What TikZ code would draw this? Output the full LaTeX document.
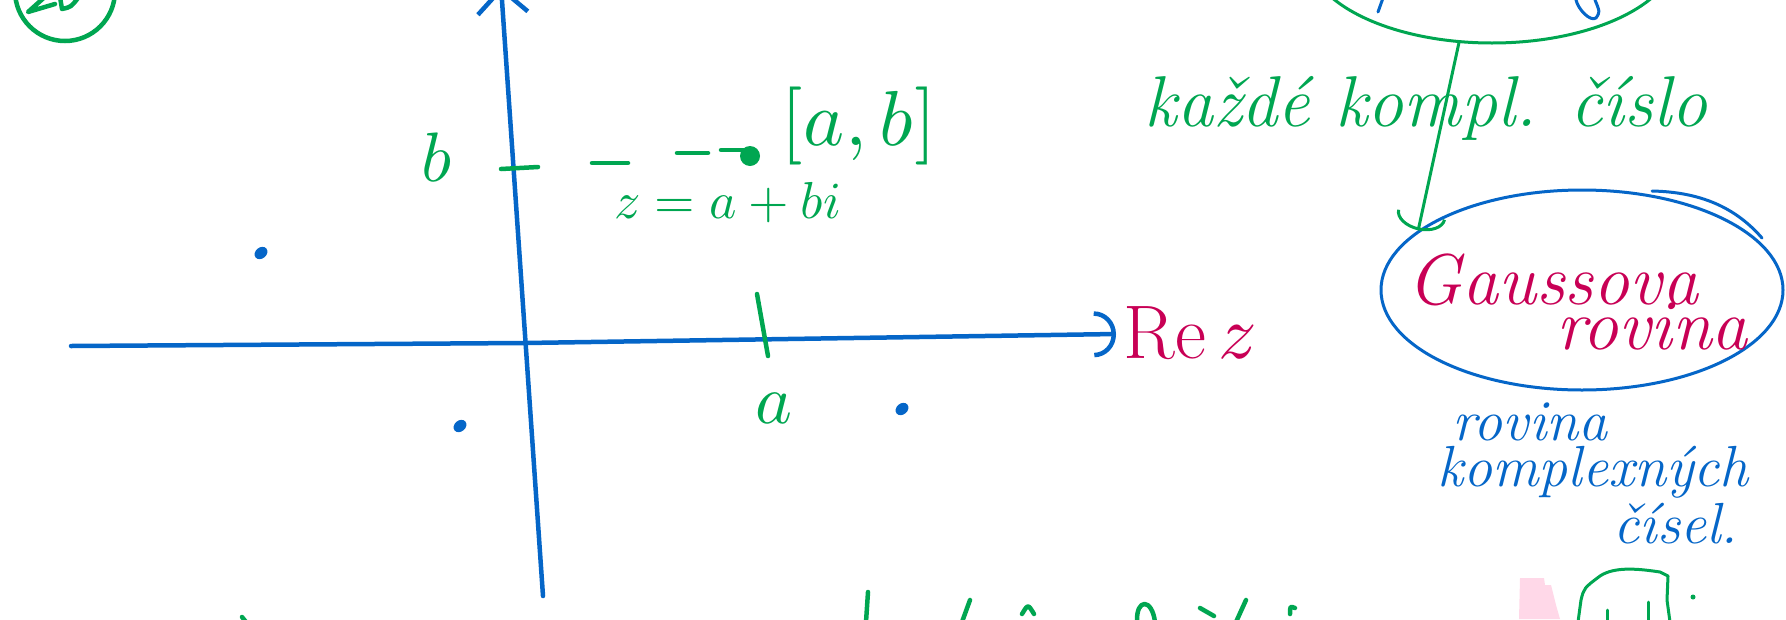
\documentclass[tikz,border=0pt]{standalone}
\usepackage{fontspec}
\usepackage{unicode-math}
\setmathfont{Latin Modern Math}
\usetikzlibrary{arrows.meta,positioning,shapes.geometric}
\definecolor{penblue}{RGB}{5,102,200}
\definecolor{pengreen}{RGB}{0,166,81}
\definecolor{penred}{RGB}{200,0,85}
\definecolor{hilite}{RGB}{255,216,232}

\begin{document}
\begin{tikzpicture}[x=1pt,y=-1pt,
  ink/.style={line width=4.5pt,line cap=round,line join=round},
  thin ink/.style={line width=3pt,line cap=round,line join=round},
  axis/.style={ink,penblue},
  tick/.style={ink,pengreen},
  dot/.style={ellipse,fill=penblue,inner sep=0pt,minimum width=14pt,minimum height=11pt,rotate=40},
  lbl/.style={text=pengreen,font=\fontsize{70}{70}\selectfont,inner sep=0pt},
  word/.style={inner sep=0pt,font=\fontsize{72}{80}\selectfont\itshape},
  note/.style={word,text=penblue,font=\fontsize{58}{60}\selectfont\itshape},
  loop/.style={ellipse,draw,thin ink,inner sep=0pt}]
\useasboundingbox (0,0) rectangle (1786,619);
\clip (0,0) rectangle (1786,619);

% axes
\coordinate (xl) at (71,346);
\coordinate (xr) at (1116,334);
\coordinate (yb) at (543,596);
\coordinate (yt) at (501,-14);
\draw[axis,-{Arc Barb[length=22pt,width=46pt]}] (xl) -- (525,343) -- (xr);
\draw[axis,-{Straight Barb[length=24pt,width=50pt]}] (yb) -- (yt);

% ticks, point z and its labels
\draw[tick] (501,169) -- (538,167);
\draw[tick] (757,294) -- (768,356);
\foreach \xa/\xb/\ya in {592/628/163,677/708/153,721/748/150}
  \draw[tick] (\xa,\ya) -- (\xb,\ya);
\node[circle,fill=pengreen,inner sep=0pt,minimum size=20pt] (z) at (750,156) {};
\node[lbl] (lb) at (437,158) {$b$};
\node[lbl] (la) at (774,408) {$a$};
\node[lbl,font=\fontsize{78}{78}\selectfont] (ab) at (859,126) {$[a,b]$};
\node[lbl,font=\fontsize{52}{52}\selectfont] (zab) at (728,203) {$z=a+bi$};

% other points
\node[dot] (p1) at (261,253) {};
\node[dot] (p2) at (460,426) {};
\node[dot] (p3) at (902,409) {};

\node[text=penred,inner sep=0pt,font=\fontsize{76}{76}\selectfont] (rez) at (1190,333) {$\mathrm{Re}\,z$};

% top left number (cut off)
\node[circle,draw=pengreen,ink,minimum size=100pt] (num) at (65,-9) {};
\draw[tick] (47,-5) -- (28,12) -- (55,4);
\draw[tick] (60,-3) -- (62,9) .. controls (71,7) .. (78,-2);

% right column
\node[loop,draw=pengreen,minimum width=370pt,minimum height=182pt] (cplx) at (1492,-48) {};
\draw[thin ink,penblue] (1383,-2) -- (1378,12);
\draw[thin ink,penblue] (1576,0) .. controls (1578,9) and (1590,22) .. (1596,18) .. controls (1600,12) .. (1595,0);
\node[word,text=pengreen] (each) at (1426,108) {každé kompl. číslo};

\node[loop,draw=penblue,minimum width=402pt,minimum height=200pt] (gauss) at (1582,290) {};
\draw[thin ink,penblue] (1652,191) .. controls (1700,192) and (1735,207) .. (1762,238);
\node[word,text=penred] (g1) at (1553,280) {Gaussova};
\node[word,text=penred] (g2) at (1652,326) {rovina};
\draw[thin ink,pengreen,-{Arc Barb[length=16pt,width=50pt]}] (cplx.250) -- (gauss.160);

\node[note] (r1) at (1530,422) {rovina};
\node[note,anchor=west] (r2) at (1437,472) {komplexných};
\node[note] (r3) at (1676,524) {čísel.};

% bottom fragments (cut off)
\fill[hilite] (1520,578) -- (1544,578) -- (1545,585) -- (1551,585) -- (1556,605) -- (1560,619) -- (1519,619) -- cycle;
\draw[thin ink,pengreen] (1578,622) -- (1581,600) .. controls (1584,588) .. (1600,576) .. controls (1615,566) and (1640,569) .. (1660,572) -- (1668,576) -- (1667,600) -- (1670,622);
\draw[thin ink,pengreen] (1607,610) -- (1607,622);
\draw[thin ink,pengreen] (1648,602) -- (1648,622);
\fill[pengreen] (1693,597) circle (2.5pt);
\draw[tick] (242,617) -- (246,622);
\draw[tick] (868,592) -- (866,622);
\draw[tick] (970,600) -- (962,622);
\draw[tick] (1022,614) .. controls (1028,604) .. (1034,614);
\draw[tick] (1137,622) .. controls (1136,598) and (1152,598) .. (1155,622);
\draw[tick] (1200,608) -- (1214,616);
\draw[tick] (1246,600) -- (1236,622);
\draw[tick] (1290,614) .. controls (1290,606) .. (1295,608);
\end{tikzpicture}
\end{document}
